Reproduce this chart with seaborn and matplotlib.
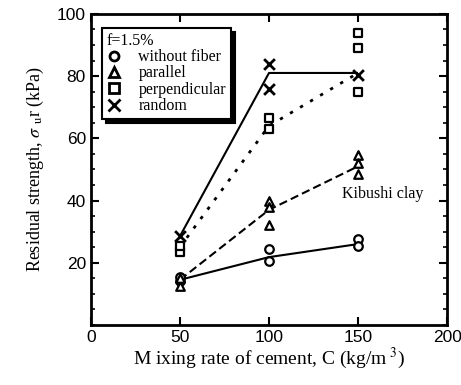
import matplotlib
matplotlib.use("Agg")
import matplotlib.pyplot as plt
import seaborn as sns
import pandas as pd
from matplotlib.lines import Line2D
from matplotlib.ticker import MultipleLocator

# Measured residual strength (kPa) at each cement content (kg/m^3)
without_fiber_x = [50, 50, 100, 100, 150, 150]
without_fiber_y = [14, 15.5, 24.5, 20.5, 27.5, 25.5]
parallel_x = [50, 50, 100, 100, 100, 150, 150, 150]
parallel_y = [12.5, 15, 40, 38, 32, 54.5, 52, 48.5]
perpendicular_x = [50, 50, 100, 100, 150, 150, 150]
perpendicular_y = [23.5, 25.5, 66.5, 63, 94, 89, 75]
random_x = [50, 100, 100, 150]
random_y = [28.5, 84, 76, 80.5]

# Trend lines through the mean of each group
cement_levels = [50, 100, 150]
without_fiber_mean = [14.5, 21.8, 26]
parallel_mean = [14.5, 37, 51]
perpendicular_mean = [25, 64, 81]
random_mean = [28.5, 81, 81]

series_names = ["without fiber", "parallel", "perpendicular", "random"]

pts = pd.concat([
    pd.DataFrame({"C": without_fiber_x, "s": without_fiber_y, "fiber": series_names[0]}),
    pd.DataFrame({"C": parallel_x, "s": parallel_y, "fiber": series_names[1]}),
    pd.DataFrame({"C": perpendicular_x, "s": perpendicular_y, "fiber": series_names[2]}),
    pd.DataFrame({"C": random_x, "s": random_y, "fiber": series_names[3]}),
], ignore_index=True)

trend = pd.concat([
    pd.DataFrame({"C": cement_levels, "s": m, "fiber": n})
    for n, m in zip(series_names,
                    [without_fiber_mean, parallel_mean, perpendicular_mean, random_mean])
], ignore_index=True)

sns.set_style("ticks")
plt.rcParams["font.family"] = ["Liberation Serif", "DejaVu Serif"]
plt.rcParams["mathtext.fontset"] = "stix"
for key in ["text.color", "axes.labelcolor", "xtick.color", "ytick.color", "axes.edgecolor"]:
    plt.rcParams[key] = "black"

fig = plt.figure(figsize=(4.61, 3.85), dpi=100)
ax = fig.add_axes([0.197, 0.156, 0.773, 0.808])

line_styles = {
    "without fiber": (0, ()),
    "parallel": (0, (4, 2)),
    "perpendicular": (0, (1.2, 3)),
    "random": (0, ()),
}
for name in series_names:
    sub = trend[trend["fiber"] == name]
    sns.lineplot(data=sub, x="C", y="s", ax=ax, color="black",
                 linewidth=1.5 if name != "perpendicular" else 2.0,
                 linestyle=line_styles[name], legend=False)

markers = {"without fiber": "o", "parallel": "^", "perpendicular": "s", "random": "X"}
for name in series_names:
    sub = pts[pts["fiber"] == name]
    if name == "random":
        ax.scatter(sub["C"], sub["s"], marker="x", s=60, color="black",
                   linewidths=2.0, zorder=4)
    else:
        sns.scatterplot(data=sub, x="C", y="s", ax=ax, marker=markers[name],
                        s=38, facecolor="white", edgecolor="black",
                        linewidth=1.6, legend=False, zorder=4)

ax.set_xlim(0, 200)
ax.set_ylim(0, 100)
ax.xaxis.set_major_locator(MultipleLocator(50))
ax.yaxis.set_major_locator(MultipleLocator(20))
ax.yaxis.set_minor_locator(MultipleLocator(5))
ax.tick_params(which="both", direction="in", top=True, right=True)
ax.tick_params(which="major", length=6, width=1.5)
ax.tick_params(which="minor", length=3, width=1.2)
ax.set_yticks([20, 40, 60, 80, 100])
for lab in ax.get_xticklabels() + ax.get_yticklabels():
    lab.set_fontfamily(["Liberation Sans", "DejaVu Sans"])
    lab.set_fontsize(12.5)
for sp in ax.spines.values():
    sp.set_linewidth(2.0)

ax.set_xlabel(r"M ixing rate of cement, C (kg/m$^{\ 3}$)", fontsize=14, labelpad=1)
ax.set_ylabel(r"Residual strength, $\sigma$ $_{\rm u}$r (kPa)", fontsize=13, labelpad=8)

ax.text(141, 42, "Kibushi clay", fontsize=11.5, va="center", ha="left")

handles = [
    Line2D([], [], marker="o", linestyle="none", markerfacecolor="white",
           markeredgecolor="black", markeredgewidth=2, markersize=6.5),
    Line2D([], [], marker="^", linestyle="none", markerfacecolor="white",
           markeredgecolor="black", markeredgewidth=2, markersize=6.5),
    Line2D([], [], marker="s", linestyle="none", markerfacecolor="white",
           markeredgecolor="black", markeredgewidth=2, markersize=6.5),
    Line2D([], [], marker="x", linestyle="none", color="black",
           markeredgewidth=2, markersize=8),
]
leg = ax.legend(handles, series_names, title="f=1.5%", loc="upper left",
                bbox_to_anchor=(0.008, 0.98), fontsize=11.5, title_fontsize=11.5,
                frameon=True, fancybox=False,
                shadow={"color": "black", "alpha": 1.0, "ox": 3, "oy": -3},
                handlelength=1.0, handletextpad=1.0, labelspacing=0.02,
                borderpad=0.3, alignment="left")
leg.get_frame().set_edgecolor("black")
leg.get_frame().set_linewidth(1.5)

fig.savefig("out.png", dpi=100)
